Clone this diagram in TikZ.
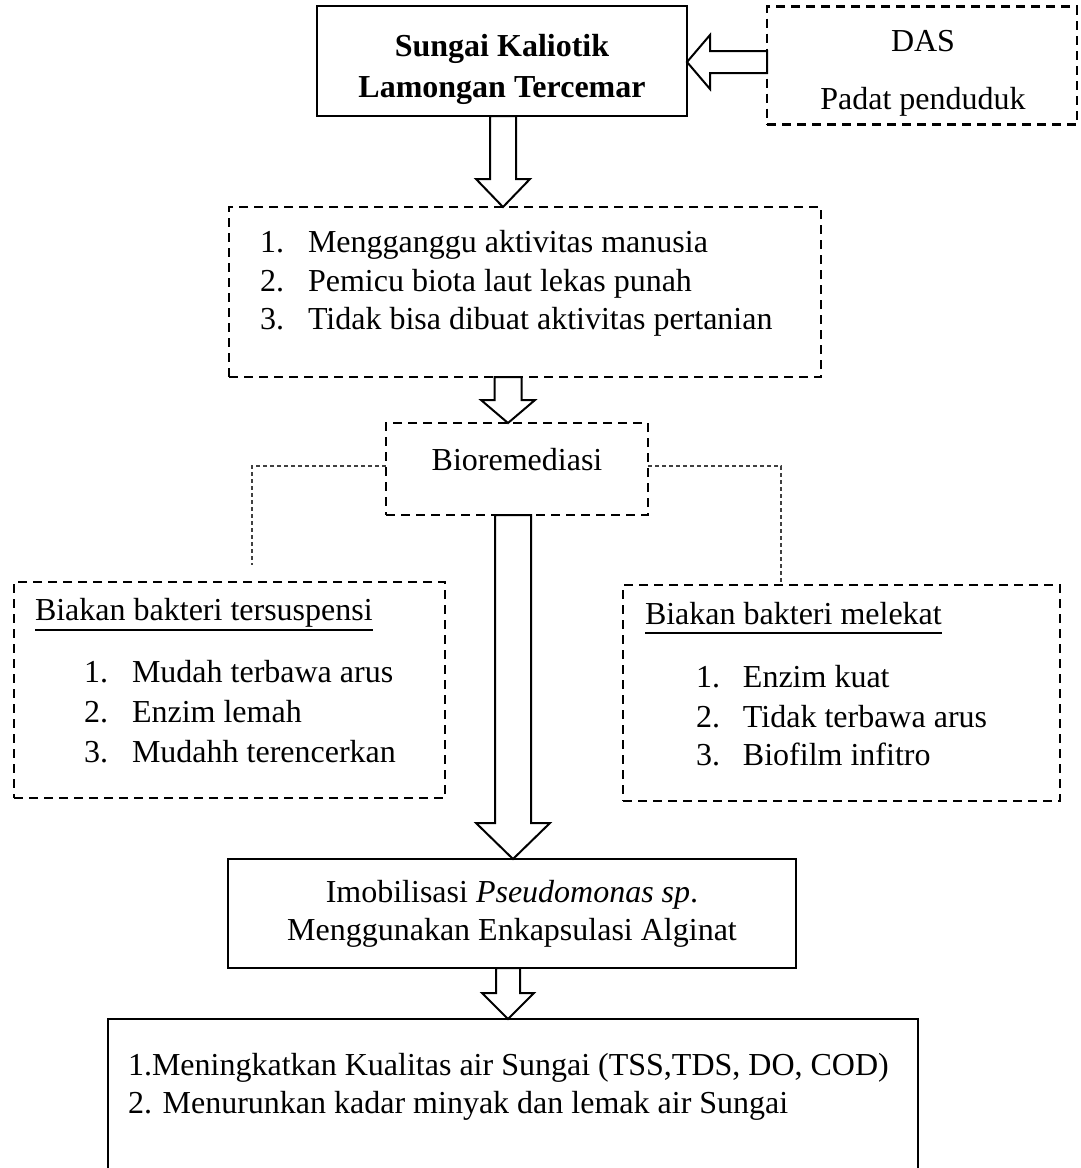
\documentclass[tikz,border=0pt]{standalone}
\usepackage{fontspec}
\setmainfont{Liberation Serif}
\usetikzlibrary{calc}
\newcommand{\hollowdown}[5]{\draw[hollow] ($(#1)+(-#3,0)$) -- ($(#2)+(-#3,-#5)$) -- ($(#2)+(-#4,-#5)$) -- (#2) -- ($(#2)+(#4,-#5)$) -- ($(#2)+(#3,-#5)$) -- ($(#1)+(#3,0)$) -- cycle;}
\newcommand{\hollowleft}[5]{\draw[hollow] ($(#1)+(0,-#3)$) -- ($(#2)+(#5,-#3)$) -- ($(#2)+(#5,-#4)$) -- (#2) -- ($(#2)+(#5,#4)$) -- ($(#2)+(#5,#3)$) -- ($(#1)+(0,#3)$) -- cycle;}
\tikzset{
  boxbase/.style={inner sep=0pt, outer sep=0pt, line width=2.5pt},
  solidbox/.style={boxbase, draw=black},
  dashbox/.style={boxbase, draw=black, dash pattern=on 9pt off 6pt},
  hollow/.style={draw=black, fill=white, line width=2pt, line join=miter},
  dotline/.style={draw=black!75, line width=1.3pt, dash pattern=on 4pt off 3pt},
  txt/.style={inner sep=0pt, outer sep=0pt, font=\fontsize{32}{38}\selectfont},
  uline/.style={line width=1.8pt}
}
\begin{document}
\begin{tikzpicture}[x=1pt,y=-1pt]
\useasboundingbox (0,0) rectangle (1081,1168);
\clip (0,0) rectangle (1081,1168);

% boxes
\node[solidbox, minimum width=370pt, minimum height=110pt] (s1) at (502,61) {};
\node[dashbox, minimum width=310pt, minimum height=118pt] (das) at (922,65.5) {};
\node[dashbox, minimum width=592pt, minimum height=170pt] (list) at (525,292) {};
\node[dashbox, minimum width=262pt, minimum height=92pt] (bio) at (517,469) {};
\node[dashbox, minimum width=431pt, minimum height=216pt] (lb) at (229.5,690) {};
\node[dashbox, minimum width=437pt, minimum height=216pt] (rb) at (841.5,693) {};
\node[solidbox, minimum width=568pt, minimum height=109pt] (imob) at (512,913.5) {};
\node[solidbox, minimum width=810pt, minimum height=170pt] (fin) at (513,1104) {};

% texts
\node[txt, anchor=base] (t1a) at (502,56) {\bfseries Sungai Kaliotik};
\node[txt, anchor=base] (t1b) at (502,97) {\bfseries Lamongan Tercemar};
\node[txt, anchor=base] (tdas) at (923,51) {DAS};
\node[txt, anchor=base] (tpad) at (923,109) {Padat penduduk};

\node[txt, anchor=base west] (l1) at (260,252) {\makebox[48pt][l]{1.}Mengganggu aktivitas manusia};
\node[txt, anchor=base west] (l2) at (260,291) {\makebox[48pt][l]{2.}Pemicu biota laut lekas punah};
\node[txt, anchor=base west] (l3) at (260,329) {\makebox[48pt][l]{3.}Tidak bisa dibuat aktivitas pertanian};

\node[txt, anchor=base] (tbio) at (517,470) {Bioremediasi};

\node[txt, anchor=base west] (hl) at (35,620) {Biakan bakteri tersuspensi};
\draw[uline] ($(hl.base west)+(0,10)$) -- ($(hl.base east)+(0,10)$);
\node[txt, anchor=base west] (a1) at (84,682) {\makebox[48pt][l]{1.}Mudah terbawa arus};
\node[txt, anchor=base west] (a2) at (84,722) {\makebox[48pt][l]{2.}Enzim lemah};
\node[txt, anchor=base west] (a3) at (84,762) {\makebox[48pt][l]{3.}Mudahh terencerkan};

\node[txt, anchor=base west] (hr) at (645,624) {Biakan bakteri melekat};
\draw[uline] ($(hr.base west)+(0,9)$) -- ($(hr.base east)+(0,9)$);
\node[txt, anchor=base west] (b1) at (696,687) {\makebox[47pt][l]{1.}Enzim kuat};
\node[txt, anchor=base west] (b2) at (696,727) {\makebox[47pt][l]{2.}Tidak terbawa arus};
\node[txt, anchor=base west] (b3) at (696,765) {\makebox[47pt][l]{3.}Biofilm infitro};

\node[txt, anchor=base] (ti1) at (512,902) {Imobilisasi \textit{Pseudomonas sp}.};
\node[txt, anchor=base] (ti2) at (512,940) {Menggunakan Enkapsulasi Alginat};

\node[txt, anchor=base west] (f1) at (128,1075) {1.Meningkatkan Kualitas air Sungai (TSS,TDS, DO, COD)};
\node[txt, anchor=base west] (f2) at (128,1113) {2. Menurunkan kadar minyak dan lemak air Sungai};

% dotted connectors
\coordinate (dl) at (252,565);
\coordinate (dr) at (781,585);
\draw[dotline] (bio.west |- 0,466) -| (dl);
\draw[dotline] (bio.east |- 0,466) -| (dr);

% hollow arrows
\coordinate (ax1) at (503,0);
\coordinate (ax2) at (508,0);
\coordinate (ax3) at (513,0);
\coordinate (ax4) at (508,0);
\coordinate (a1s) at (s1.south -| ax1);
\coordinate (a1e) at (list.north -| ax1);
\coordinate (a2s) at (list.south -| ax2);
\coordinate (a2e) at (bio.north -| ax2);
\coordinate (a3s) at (bio.south -| ax3);
\coordinate (a3e) at (imob.north -| ax3);
\coordinate (a4s) at (imob.south -| ax4);
\coordinate (a4e) at (fin.north -| ax4);
\coordinate (ay) at (0,62);
\coordinate (a5s) at (das.west |- ay);
\coordinate (a5e) at (s1.east |- ay);

\hollowdown{a1s}{a1e}{13}{27}{28}
\hollowdown{a2s}{a2e}{13.5}{27}{23}
\hollowdown{a3s}{a3e}{18}{37}{36}
\hollowdown{a4s}{a4e}{12}{26}{26}
\hollowleft{a5s}{a5e}{11}{27}{23}
\end{tikzpicture}
\end{document}
